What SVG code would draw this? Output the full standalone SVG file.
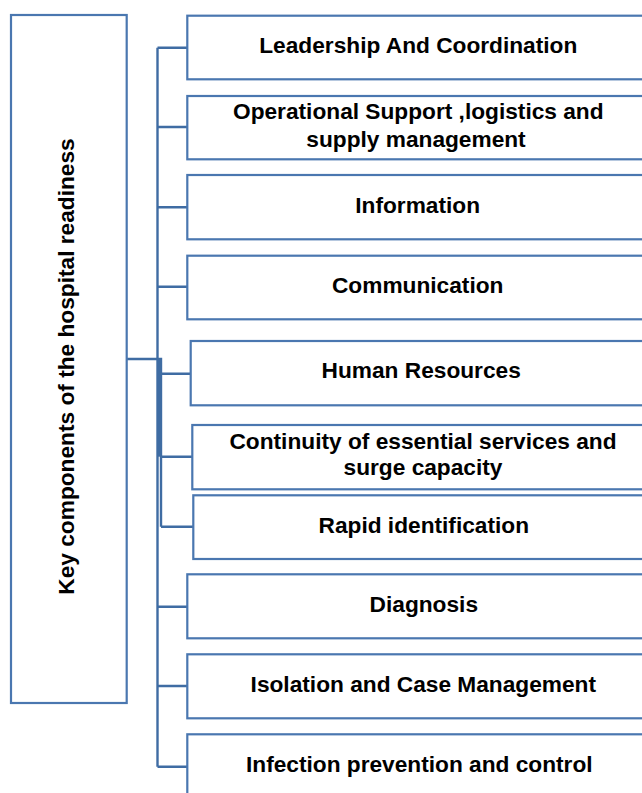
<svg xmlns="http://www.w3.org/2000/svg" width="642" height="793" viewBox="0 0 642 793">
<style>
.box{fill:#ffffff;stroke:#4a77b0;stroke-width:2.2}
.t{font-family:"Liberation Sans",Arial,sans-serif;font-weight:bold;font-size:22.7px;fill:#000000;text-anchor:middle}
.c{fill:none;stroke:#3f6ca3;stroke-width:2.4}
</style>
<rect x="0" y="0" width="642" height="793" fill="#ffffff"/>
<g id="connectors">
<path class="c" d="M157.5 47.7 V766.7"/>
<path class="c" d="M157.5 47.7 H187.3 M157.5 127 H187.3 M157.5 207.3 H187.3 M157.5 286.7 H187.3 M157.5 606.7 H187.3 M157.5 686 H187.3 M157.5 766.7 H187.3"/>
<path class="c" d="M126.7 359 H161 V526.7"/>
<path class="c" d="M159.2 359 V456.7"/>
<path class="c" d="M161 373.7 H190.7 M161 456.7 H192.3 M161 526.7 H193.3"/>
</g>
<g id="root">
<rect class="box" x="11" y="15" width="115.7" height="688"/>
<text class="t" transform="translate(74,366.5) rotate(-90)" x="0" y="0">Key components of the hospital readiness</text>
</g>
<g id="n1">
<rect class="box" x="187.3" y="15.7" width="470" height="63.6"/>
<text class="t" x="418.3" y="53.3">Leadership And Coordination</text>
</g>
<g id="n2">
<rect class="box" x="187.3" y="96" width="470" height="63.3"/>
<text class="t" x="418.3" y="119">Operational Support ,logistics and</text>
<text class="t" x="416" y="146.5">supply management</text>
</g>
<g id="n3">
<rect class="box" x="187.3" y="175" width="470" height="64.3"/>
<text class="t" x="417.7" y="212.7">Information</text>
</g>
<g id="n4">
<rect class="box" x="187.3" y="255.7" width="470" height="63.6"/>
<text class="t" x="417.7" y="292.7">Communication</text>
</g>
<g id="n5">
<rect class="box" x="190.7" y="341" width="470" height="64.3"/>
<text class="t" x="421.2" y="378.3">Human Resources</text>
</g>
<g id="n6">
<rect class="box" x="192.3" y="425" width="470" height="64.3"/>
<text class="t" x="423" y="449.3">Continuity of essential services and</text>
<text class="t" x="423" y="475">surge capacity</text>
</g>
<g id="n7">
<rect class="box" x="193.3" y="495.3" width="470" height="63.7"/>
<text class="t" x="423.8" y="532.7">Rapid identification</text>
</g>
<g id="n8">
<rect class="box" x="187.3" y="574.3" width="470" height="64"/>
<text class="t" x="423.8" y="611.7">Diagnosis</text>
</g>
<g id="n9">
<rect class="box" x="187.3" y="654.3" width="470" height="64"/>
<text class="t" x="423.3" y="691.7">Isolation and Case Management</text>
</g>
<g id="n10">
<rect class="box" x="187.3" y="734.3" width="470" height="64"/>
<text class="t" x="419.3" y="771.7">Infection prevention and control</text>
</g>
</svg>
